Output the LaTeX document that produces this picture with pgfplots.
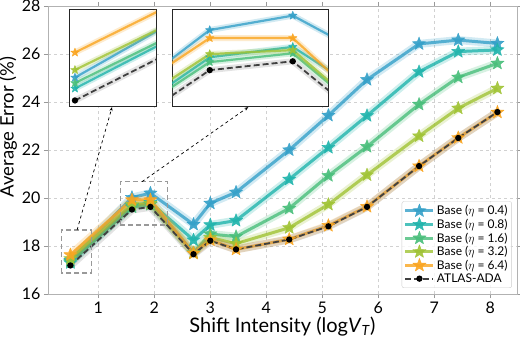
\documentclass[border=0pt]{standalone}
\usepackage{fontspec}
\setmainfont{Lato}
\usepackage{pgfplots}
\pgfplotsset{compat=1.18}
\usepackage{pgfplotstable}
\usetikzlibrary{arrows.meta,calc}

\definecolor{cB}{RGB}{52,160,200}
\definecolor{cT}{RGB}{32,180,172}
\definecolor{cG}{RGB}{72,190,122}
\definecolor{cY}{RGB}{160,195,52}
\definecolor{cO}{RGB}{250,165,32}

% filled five-point star
\pgfdeclareplotmark{fstar}{%
  \pgfpathmoveto{\pgfpointpolar{90}{\pgfplotmarksize}}%
  \pgfpathlineto{\pgfpointpolar{126}{0.42\pgfplotmarksize}}%
  \pgfpathlineto{\pgfpointpolar{162}{\pgfplotmarksize}}%
  \pgfpathlineto{\pgfpointpolar{198}{0.42\pgfplotmarksize}}%
  \pgfpathlineto{\pgfpointpolar{234}{\pgfplotmarksize}}%
  \pgfpathlineto{\pgfpointpolar{270}{0.42\pgfplotmarksize}}%
  \pgfpathlineto{\pgfpointpolar{306}{\pgfplotmarksize}}%
  \pgfpathlineto{\pgfpointpolar{342}{0.42\pgfplotmarksize}}%
  \pgfpathlineto{\pgfpointpolar{18}{\pgfplotmarksize}}%
  \pgfpathlineto{\pgfpointpolar{54}{0.42\pgfplotmarksize}}%
  \pgfpathclose
  \pgfusepathqfillstroke}

\pgfplotstableread{
x    b04   b08   b16   b32   b64   at
0.5  17.40 17.30 17.35 17.47 17.63 17.19
1.6  20.02 19.68 19.62 19.72 19.92 19.52
1.93 20.20 19.81 19.73 19.77 19.92 19.63
2.7  18.90 18.25 17.72 17.70 17.70 17.66
3.0  19.78 18.88 18.50 18.35 18.25 18.22
3.46 20.24 19.06 18.39 18.10 17.86 17.86
4.41 22.00 20.78 19.57 18.76 18.28 18.27
5.11 23.44 22.10 20.93 19.73 18.85 18.82
5.8  24.93 23.43 22.14 20.96 19.64 19.63
6.73 26.42 25.26 23.90 22.58 21.33 21.33
7.43 26.58 26.10 25.03 23.74 22.51 22.50
8.13 26.44 26.17 25.61 24.57 23.57 23.58
}\data

\pgfplotsset{
  bnd/.style={draw=#1, draw opacity=0.22, no markers, forget plot, line join=round},
  ser/.style={draw=#1, draw opacity=0.8, line join=round, mark=fstar,
    mark options={solid, fill=#1, draw=#1, line width=0.4pt, opacity=0.9}},
  atl/.style={draw=black!75, line width=1.8pt, dash pattern=on 6pt off 3pt,
    mark=*, mark size=2.2pt, mark options={solid, fill=black, draw=black}},
}

% #1 line width, #2 star size, #3 band width
\newcommand\curves[3]{%
  \addplot[bnd=cB, line width=#3] table[y=b04]{\data};
  \addplot[ser=cB, line width=#1, mark size=#2] table[y=b04]{\data};
  \addplot[bnd=cT, line width=#3] table[y=b08]{\data};
  \addplot[ser=cT, line width=#1, mark size=#2] table[y=b08]{\data};
  \addplot[bnd=cG, line width=#3] table[y=b16]{\data};
  \addplot[ser=cG, line width=#1, mark size=#2] table[y=b16]{\data};
  \addplot[bnd=cY, line width=#3] table[y=b32]{\data};
  \addplot[ser=cY, line width=#1, mark size=#2] table[y=b32]{\data};
  \addplot[bnd=cO, line width=#3] table[y=b64]{\data};
  \addplot[ser=cO, line width=#1, mark size=#2] table[y=b64]{\data};
  \addplot[bnd=black!50, line width=#3] table[y=at]{\data};
  \addplot[atl] table[y=at]{\data};
}

\begin{document}
\begin{tikzpicture}
\begin{axis}[name=ax, scale only axis, width=469pt, height=288pt,
  xmin=0.1, xmax=8.48, ymin=16, ymax=28,
  xtick={1,...,8}, ytick={16,18,...,28},
  grid=major, grid style={dashed, black!18, line width=0.5pt},
  axis line style={black!30}, tick style={black!40},
  tick align=outside, major tick length=4pt,
  /pgf/number format/assume math mode=true,
  tick label style={font=\fontsize{16}{18}\selectfont},
  xlabel={Shift Intensity (log\textit{V}\textsubscript{\textit{T}})},
  ylabel={Average Error (\%)},
  xlabel style={font=\fontsize{20}{22}\selectfont, yshift=3pt},
  ylabel style={font=\fontsize{18.5}{20}\selectfont,
    at={(ticklabel cs:0.58)}, yshift=-2pt},
  legend style={at={(0.989,0.021)}, anchor=south east,
    font=\fontsize{12}{12}\selectfont, draw=black!20, rounded corners=2pt,
    fill=white, fill opacity=0.8, text opacity=1, inner sep=2pt,
    row sep=-1.2pt, cells={anchor=west}},
  legend image code/.code={\draw[mark repeat=2, mark phase=2, #1]
    plot coordinates {(0pt,0pt) (14pt,0pt) (28pt,0pt)};},
  legend entries={Base ($\eta$ = 0.4), Base ($\eta$ = 0.8), Base ($\eta$ = 1.6),
    Base ($\eta$ = 3.2), Base ($\eta$ = 6.4), ATLAS-ADA},
]
\curves{3pt}{7pt}{8pt}
\draw[black!40, dashed, line width=1.2pt, dash pattern=on 5pt off 3pt]
  (axis cs:0.34,16.875) rectangle (axis cs:0.875,18.67);
\draw[black!40, dashed, line width=1.2pt, dash pattern=on 5pt off 3pt]
  (axis cs:1.39,18.875) rectangle (axis cs:2.23,20.68);
\draw[black, dashed, line width=0.7pt, -{Stealth[length=4pt]}]
  (axis cs:0.62,18.67) -- (axis cs:1.245,23.79);
\draw[black, dashed, line width=0.7pt, -{Stealth[length=4pt]}]
  (axis cs:1.78,20.68) -- (axis cs:3.68,23.79);
\end{axis}

\begin{axis}[at={($(ax.south west)+(21pt,187pt)$)}, anchor=south west,
  scale only axis, width=87pt, height=97pt,
  xmin=0.487, xmax=0.677, ymin=17.13, ymax=18.02,
  xtick=\empty, ytick=\empty,
  axis background/.style={fill=white},
  axis line style={black!85, line width=1pt}]
\curves{2.2pt}{4.5pt}{6pt}
\end{axis}

\begin{axis}[at={($(ax.south west)+(124pt,187pt)$)}, anchor=south west,
  scale only axis, width=156pt, height=97pt,
  xmin=1.45, xmax=2.07, ymin=19.06, ymax=20.27,
  xtick=\empty, ytick=\empty,
  axis background/.style={fill=white},
  axis line style={black!85, line width=1pt}]
\curves{2.2pt}{4.5pt}{6pt}
\end{axis}

\pgfresetboundingbox
\path[use as bounding box] ($(ax.south west)+(-48pt,-46pt)$) rectangle ($(ax.north east)+(3pt,6pt)$);
\end{tikzpicture}
\end{document}
